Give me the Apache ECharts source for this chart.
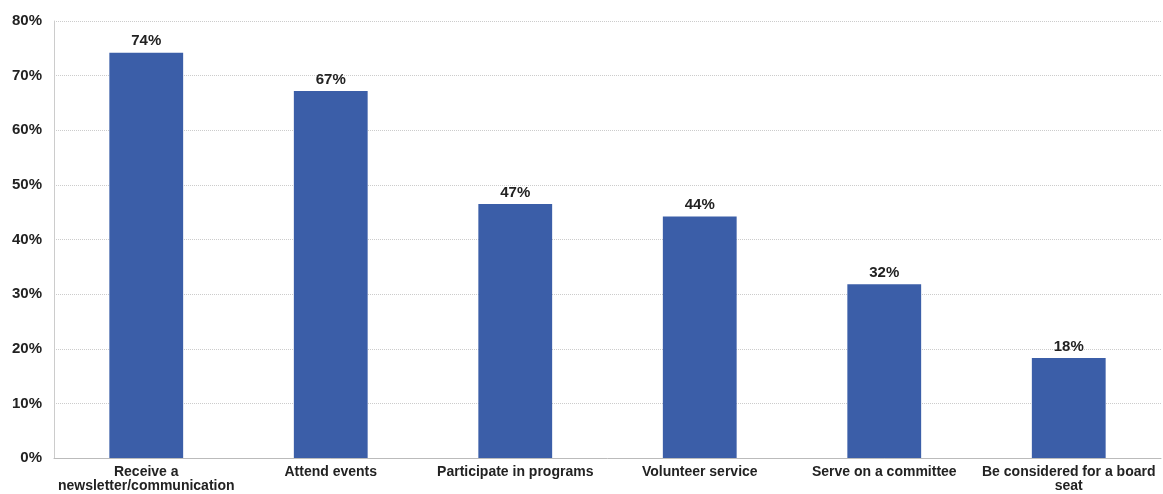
<!DOCTYPE html>
<html>
<head>
<meta charset="utf-8">
<script src="https://cdn.jsdelivr.net/npm/echarts@6/dist/echarts.min.js"></script>
<style>
  html, body { margin: 0; padding: 0; background: #fff; }
  #chart { width: 1163px; height: 494px; }
</style>
</head>
<body>
<div id="chart"></div>
<script>
  var categories = ['Receive a\nnewsletter/communication', 'Attend events', 'Participate in programs',
    'Volunteer service', 'Serve on a committee', 'Be considered for a board\nseat'];
  var values = [74.2, 67.2, 46.5, 44.2, 31.8, 18.3];

  var chart = echarts.init(document.getElementById('chart'));

  var option = {
    animation: false,
    grid: { left: 54, right: 2, top: 21, bottom: 36 },
    xAxis: {
      type: 'category',
      data: categories,
      axisLine: { lineStyle: { color: '#bbb' } },
      axisTick: { show: false },
      axisLabel: {
        interval: 0,
        color: '#222',
        fontFamily: 'Liberation Sans, Arial, sans-serif',
        fontWeight: 'bold',
        fontSize: 14,
        lineHeight: 14,
        margin: 7
      }
    },
    yAxis: {
      type: 'value',
      min: 0,
      max: 80,
      interval: 10,
      axisLine: { show: true, lineStyle: { color: '#ccc' } },
      axisTick: { show: false },
      splitLine: { lineStyle: { color: '#ccc', type: 'dotted' } },
      axisLabel: {
        formatter: '{value}%',
        color: '#222',
        fontFamily: 'Liberation Sans, Arial, sans-serif',
        fontWeight: 'bold',
        fontSize: 15,
        margin: 12
      }
    },
    series: [{
      type: 'bar',
      data: values,
      barWidth: '40%',
      itemStyle: { color: '#3b5ea8' },
      label: {
        show: true,
        position: 'top',
        distance: 4,
        color: '#222',
        fontFamily: 'Liberation Sans, Arial, sans-serif',
        fontWeight: 'bold',
        fontSize: 15,
        formatter: function (p) { return Math.round(p.value) + '%'; }
      }
    }]
  };

  chart.setOption(option);
</script>
</body>
</html>
